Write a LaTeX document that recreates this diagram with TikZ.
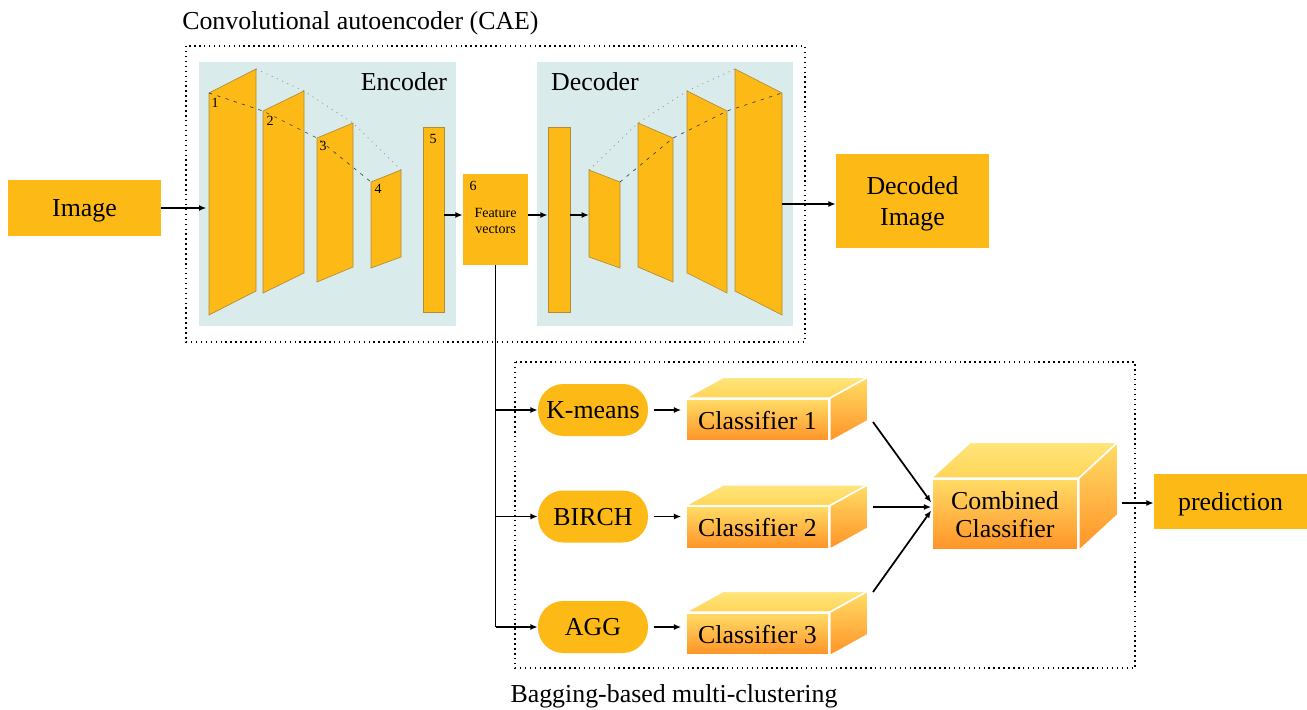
\documentclass[tikz,border=0pt]{standalone}
\usepackage{fontspec}
\setmainfont{Liberation Serif}
\usetikzlibrary{arrows.meta,calc}

\definecolor{amber}{HTML}{FDBA17}
\definecolor{layeredge}{HTML}{B08C35}
\definecolor{panel}{HTML}{DAEBEB}
\definecolor{faceA}{HTML}{FFDC66}
\definecolor{faceB}{HTML}{FF9326}
\definecolor{topA}{HTML}{FFE57A}
\definecolor{topB}{HTML}{FFD558}

\newcommand\bigfont{\fontsize{19.4}{23}\selectfont}
\newcommand\tinyfont{\fontsize{10.5}{12}\selectfont}

% top and side faces of a cuboid whose front face is node #1, depth (#2,#3)
\newcommand\cuboidfaces[3]{%
  \path[topface] (#1.north west) -- ++(#2,#3) -- ($(#1.north east)+(#2,#3)$) -- (#1.north east) -- cycle;
  \path[sideface] (#1.north east) -- ++(#2,#3) -- ($(#1.south east)+(#2,#3)$) -- (#1.south east) -- cycle;
}

\begin{document}
\begin{tikzpicture}[x=0.75pt,y=-0.75pt,
  frame/.style={draw=black,line width=1.1pt,dash pattern=on 1.1pt off 2.6pt},
  panelbox/.style={fill=panel,draw=none},
  layer/.style={fill=amber,draw=layeredge,line width=0.5pt},
  block/.style={fill=amber,draw=none,inner sep=0pt,align=center,font=\bigfont,text depth=0pt},
  pill/.style={fill=amber,draw=none,rounded corners=19pt,minimum width=82.5pt,minimum height=39pt,inner sep=0pt,font=\bigfont,text depth=0pt},
  front/.style={draw=white,line width=1.2pt,top color=faceA,bottom color=faceB,inner sep=0pt,align=center,font=\bigfont,text depth=0pt},
  topface/.style={draw=white,line width=1.2pt,top color=topA,bottom color=topB},
  sideface/.style={draw=white,line width=1.2pt,top color=faceA,bottom color=faceB},
  backguide/.style={draw=gray!80,line width=0.6pt,dash pattern=on 0.8pt off 3.5pt},
  frontguide/.style={draw=black!75,line width=0.5pt,dash pattern=on 2.5pt off 4pt},
  arr/.style={line width=1.3pt,-{Latex[length=5.5pt,width=4.5pt]}},
  seg/.style={line width=1.3pt},
  num/.style={font=\tinyfont,inner sep=0pt,text depth=0pt},
  caption/.style={font=\bigfont,inner sep=0pt,text depth=0pt}]

\useasboundingbox (0,0) rectangle (1307,710);

% ---------------- convolutional autoencoder ----------------
\node[caption,anchor=west] (caetitle) at (182,21) {Convolutional autoencoder (CAE)};
\draw[frame] (186,46) rectangle (805,342);
\path[panelbox] (199,62) rectangle (456,326);
\path[panelbox] (537,62) rectangle (793,326);
\node[caption] (enctitle) at (404,82) {Encoder};
\node[caption] (dectitle) at (595,82) {Decoder};

% encoder layer corners
\coordinate (e1a) at (209,93);  \coordinate (e1b) at (256,69);  \coordinate (e1c) at (256,291); \coordinate (e1d) at (209,315);
\coordinate (e2a) at (263,111); \coordinate (e2b) at (304,91);  \coordinate (e2c) at (304,273); \coordinate (e2d) at (263,293);
\coordinate (e3a) at (317,138); \coordinate (e3b) at (353,123); \coordinate (e3c) at (353,267); \coordinate (e3d) at (317,282);
\coordinate (e4a) at (371,182); \coordinate (e4b) at (401,170); \coordinate (e4c) at (401,257); \coordinate (e4d) at (371,268);
% decoder layer corners
\coordinate (d1a) at (589,170); \coordinate (d1b) at (620,182); \coordinate (d1c) at (620,268); \coordinate (d1d) at (589,257);
\coordinate (d2a) at (638,123); \coordinate (d2b) at (673,138); \coordinate (d2c) at (673,282); \coordinate (d2d) at (638,267);
\coordinate (d3a) at (687,91);  \coordinate (d3b) at (727,111); \coordinate (d3c) at (727,293); \coordinate (d3d) at (687,273);
\coordinate (d4a) at (735,69);  \coordinate (d4b) at (782,93);  \coordinate (d4c) at (782,315); \coordinate (d4d) at (735,291);

% guides behind the layers
\draw[backguide] (e1b) -- (e2b) -- (e3b) -- (e4b);
\draw[backguide] (d1a) -- (d2a) -- (d3a) -- (d4a);

% layers
\foreach \l in {e1,e2,e3,e4,d1,d2,d3,d4}
  \draw[layer] (\l a) -- (\l b) -- (\l c) -- (\l d) -- cycle;
\node[layer,minimum width=15.75pt,minimum height=138.75pt,inner sep=0pt] (e5) at (433.5,219.5) {};
\node[layer,minimum width=16.5pt,minimum height=138.75pt,inner sep=0pt] (d0) at (559,219.5) {};

% guides over the layers
\draw[frontguide] (e1a) -- (e2a) -- (e3a) -- (e4a);
\draw[frontguide] (d1b) -- (d2b) -- (d3b) -- (d4b);

% layer numbers
\node[num] (n1) at (215,103) {1};
\node[num] (n2) at (270,121) {2};
\node[num] (n3) at (323,146) {3};
\node[num] (n4) at (378,189) {4};
\node[num] (n5) at (433,139) {5};

% feature vectors
\node[block,minimum width=48.75pt,minimum height=68.25pt] (fv) at (495.5,219.5) {};
\node[num] (n6) at (473,186) {6};
\node[num,align=center,font=\fontsize{10.5}{12}\selectfont] (fvtext) at (495.5,221) {Feature\\vectors};

% input and output blocks
\node[block,minimum width=114.75pt,minimum height=42pt] (img) at (84.5,208) {Image};
\node[block,minimum width=114.75pt,minimum height=70.5pt] (dimg) at (912.5,201) {Decoded\\Image};

\coordinate (e1in) at (209,208);
\coordinate (d1in) at (589,215);
\coordinate (d4out) at (782,204);

\draw[arr,shorten >=2pt] (img.east |- e1in) -- (e1in);
\draw[arr] ($(e5.east)+(0,-4.5)$) -- ($(fv.west)+(0,-4.5)$);
\draw[arr] ($(fv.east)+(0,-4.5)$) -- ($(d0.west)+(0,-4.5)$);
\draw[arr] (d0.east |- d1in) -- (d1in);
\draw[arr] (d4out) -- (d4out -| dimg.west);

% ---------------- bagging-based multi-clustering ----------------
\draw[frame] (515,362) rectangle (1135,668);
\node[caption] (bagtitle) at (674,694) {Bagging-based multi-clustering};

\node[pill] (km) at (593,410) {K-means};
\node[pill] (bi) at (593,516.5) {BIRCH};
\node[pill] (ag) at (593,627) {AGG};

\draw[seg] (fv.south) -- (fv.south |- ag.west);
\draw[arr] (fv.south |- km.west) -- (km.west);
\draw[arr] (fv.south |- bi.west) -- (bi.west);
\draw[arr] (fv.south |- ag.west) -- (ag.west);

\node[front,minimum width=107.25pt,minimum height=31.5pt] (c1) at (757.5,420) {Classifier 1};
\cuboidfaces{c1}{38}{-21}
\node[front,minimum width=107.25pt,minimum height=31.5pt] (c2) at (757.5,527.5) {Classifier 2};
\cuboidfaces{c2}{38}{-21}
\node[front,minimum width=107.25pt,minimum height=31.5pt] (c3) at (757.5,634) {Classifier 3};
\cuboidfaces{c3}{38}{-21}

\draw[arr,shorten <=4pt,shorten >=3pt] (km.east) -- (km.east -| c1.west);
\draw[arr,shorten <=4pt,shorten >=3pt] (bi.east) -- (bi.east -| c2.west);
\draw[arr,shorten <=4pt,shorten >=3pt] (ag.east) -- (ag.east -| c3.west);

\node[front,minimum width=109.5pt,minimum height=53.25pt] (cc) at (1005,514.5) {Combined\\[-2pt]Classifier};
\cuboidfaces{cc}{39}{-36}

\coordinate (c1out) at (873,422);
\coordinate (c2out) at (873,507);
\coordinate (c3out) at (873,592);
\draw[arr] (c1out) -- ($(cc.west)+(0,-12)$);
\draw[arr] (c2out) -- (c2out -| cc.west);
\draw[arr] (c3out) -- ($(cc.west)+(0,-4)$);

\node[block,minimum width=114.75pt,minimum height=41.25pt] (pred) at (1230.5,501.5) {prediction};
\coordinate (ccout) at (1122,503);
\draw[arr] (ccout) -- (ccout -| pred.west);

\end{tikzpicture}
\end{document}
